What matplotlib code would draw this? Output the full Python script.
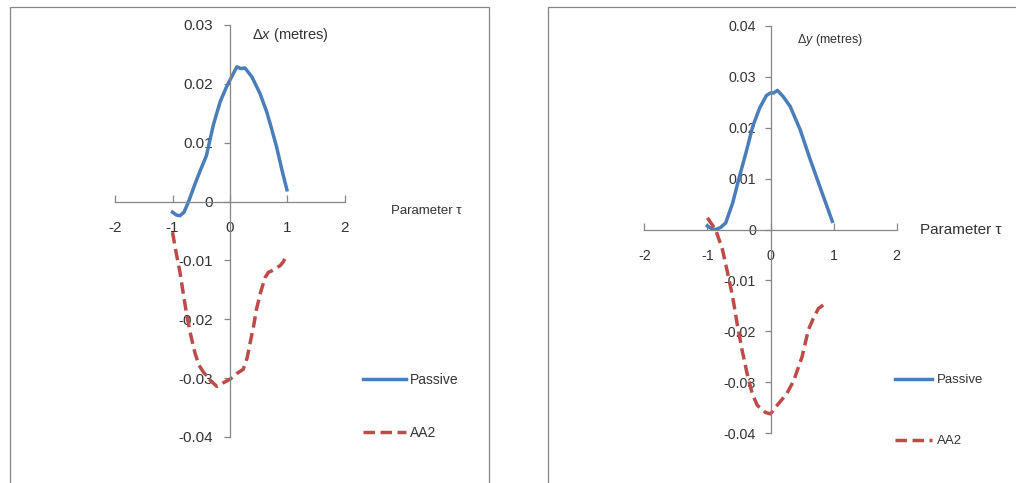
import matplotlib
matplotlib.use("Agg")
import matplotlib.pyplot as plt
from matplotlib.patches import Rectangle

plt.rcParams['font.family'] = ['Liberation Sans', 'DejaVu Sans']
plt.rcParams['mathtext.fontset'] = 'custom'
plt.rcParams['mathtext.it'] = 'Liberation Sans:italic'
plt.rcParams['mathtext.rm'] = 'Liberation Sans'

# ---------------- data ----------------
x_ticks = [-2, -1, 0, 1, 2]
left_yticks = [-0.04, -0.03, -0.02, -0.01, 0, 0.01, 0.02, 0.03]
right_yticks = [-0.04, -0.03, -0.02, -0.01, 0, 0.01, 0.02, 0.03, 0.04]

# Left panel: Δx
dx_passive_tau = [-1.0, -0.93, -0.87, -0.8, -0.72, -0.62, -0.52, -0.41, -0.29, -0.17,
                  -0.06, 0.06, 0.12, 0.19, 0.26, 0.38, 0.52, 0.64, 0.72, 0.81, 0.9, 0.99]
dx_passive = [-0.0018, -0.0023, -0.0024, -0.0018, 0.0, 0.0027, 0.0052, 0.0078, 0.013, 0.017,
              0.0195, 0.0218, 0.0229, 0.0226, 0.0227, 0.0212, 0.0184, 0.0152, 0.0125, 0.0093,
              0.0055, 0.002]
dx_aa2_tau = [-1.0, -0.94, -0.87, -0.81, -0.75, -0.68, -0.61, -0.54, -0.46, -0.35, -0.23,
              -0.12, 0.0, 0.12, 0.23, 0.3, 0.35, 0.41, 0.46, 0.53, 0.61, 0.67, 0.72, 0.8,
              0.87, 0.93, 0.99]
dx_aa2 = [-0.0052, -0.0085, -0.012, -0.0158, -0.0194, -0.0228, -0.0257, -0.0278, -0.029,
          -0.0303, -0.0314, -0.0308, -0.0302, -0.0292, -0.0285, -0.0265, -0.024, -0.0212,
          -0.0183, -0.0155, -0.0129, -0.012, -0.0118, -0.0113, -0.0109, -0.0102, -0.0089]

# Right panel: Δy
dy_passive_tau = [-1.0, -0.94, -0.87, -0.79, -0.71, -0.6, -0.49, -0.39, -0.28, -0.17,
                  -0.065, 0.0, 0.05, 0.11, 0.2, 0.31, 0.47, 0.63, 0.8, 0.98]
dy_passive = [0.0007, 0.0002, 0.0, 0.0004, 0.0013, 0.0052, 0.0105, 0.015, 0.0203, 0.0239,
              0.0263, 0.0268, 0.0268, 0.0273, 0.0261, 0.0242, 0.0196, 0.0137, 0.0078, 0.0016]
dy_aa2_tau = [-1.0, -0.94, -0.87, -0.76, -0.68, -0.6, -0.53, -0.45, -0.37, -0.29, -0.21,
              -0.08, 0.0, 0.105, 0.26, 0.37, 0.5, 0.6, 0.68, 0.76, 0.87]
dy_aa2 = [0.0023, 0.0012, 0.0, -0.004, -0.0085, -0.0132, -0.0184, -0.0237, -0.0283, -0.0322,
          -0.0345, -0.0359, -0.0362, -0.0345, -0.0322, -0.0296, -0.025, -0.0197, -0.0174,
          -0.0155, -0.0145]

BLUE = '#4A7EBB'
RED = '#BE4B48'
AXC = '#868686'
TXT = '#333333'

W, H = 1016, 483
fig = plt.figure(figsize=(W / 100, H / 100), dpi=100)

# chart frames
fig.patches.append(Rectangle((10 / W, -0.05), (489 - 10) / W, 1.05 - 7 / H,
                             transform=fig.transFigure, fill=False, ec=AXC, lw=0.9))
fig.patches.append(Rectangle((548 / W, -0.05), 0.5, 1.05 - 7 / H,
                             transform=fig.transFigure, fill=False, ec=AXC, lw=0.9))


def setup(ax, ylim, yticks, fs, xpad, ypad):
    ax.set_xlim(-2, 2)
    ax.set_ylim(*ylim)
    ax.patch.set_alpha(0)
    for s in ('top', 'right'):
        ax.spines[s].set_visible(False)
    ax.spines['left'].set_position(('data', 0))
    ax.spines['bottom'].set_position(('data', 0))
    for s in ('left', 'bottom'):
        ax.spines[s].set_color(AXC)
        ax.spines[s].set_linewidth(0.9)
    ax.set_xticks(x_ticks)
    ax.set_xticklabels([str(t) for t in x_ticks])
    ax.set_yticks(yticks)
    ax.set_yticklabels(['0' if t == 0 else f'{t:.2f}' for t in yticks])
    ax.tick_params(axis='x', direction='in', length=5, width=0.9, color=AXC,
                   labelsize=fs, labelcolor=TXT, pad=xpad)
    ax.tick_params(axis='y', direction='out', length=4, width=0.9, color=AXC,
                   labelsize=fs, labelcolor=TXT, pad=ypad)


# Left
axL = fig.add_axes([115 / W, 1 - 437 / H, 230 / W, 412 / H])
setup(axL, (-0.04, 0.03), left_yticks, 11, 14, 8)
lp, = axL.plot(dx_passive_tau, dx_passive, color=BLUE, lw=2.5, label='Passive',
               clip_on=False)
la, = axL.plot(dx_aa2_tau, dx_aa2, color=RED, lw=2.5, dashes=(3.3, 1.6), label='AA2',
               clip_on=False)
fig.text(252 / W, 1 - 35 / H, r'Δ$\mathit{x}$ (metres)', fontsize=10.5, color=TXT,
         ha='left', va='center')
fig.text(391 / W, 1 - 211 / H, 'Parameter τ', fontsize=9.5, color=TXT,
         ha='left', va='center')
axL.legend(handles=[lp, la], loc='upper left', bbox_to_anchor=(363 / W, 1 - 373 / H),
           bbox_transform=fig.transFigure, frameon=False, borderpad=0, borderaxespad=0,
           fontsize=10, labelcolor=TXT, handlelength=3.1, handletextpad=0.3,
           labelspacing=2.8)

# Right
axR = fig.add_axes([644.3 / W, 1 - 433.3 / H, 252.4 / W, 407.6 / H])
setup(axR, (-0.04, 0.04), right_yticks, 10.3, 14, 6.5)
rp, = axR.plot(dy_passive_tau, dy_passive, color=BLUE, lw=2.5, label='Passive',
               clip_on=False)
ra, = axR.plot(dy_aa2_tau, dy_aa2, color=RED, lw=2.5, dashes=(3.3, 1.6), label='AA2',
               clip_on=False)
fig.text(797 / W, 1 - 40 / H, r'Δ$\mathit{y}$ (metres)', fontsize=9, color=TXT,
         ha='left', va='center')
fig.text(920 / W, 1 - 230 / H, 'Parameter τ', fontsize=11, color=TXT,
         ha='left', va='center')
axR.legend(handles=[rp, ra], loc='upper left', bbox_to_anchor=(895 / W, 1 - 374 / H),
           bbox_transform=fig.transFigure, frameon=False, borderpad=0, borderaxespad=0,
           fontsize=9.5, labelcolor=TXT, handlelength=2.8, handletextpad=0.35,
           labelspacing=3.7)

fig.savefig('out.png', dpi=100)
